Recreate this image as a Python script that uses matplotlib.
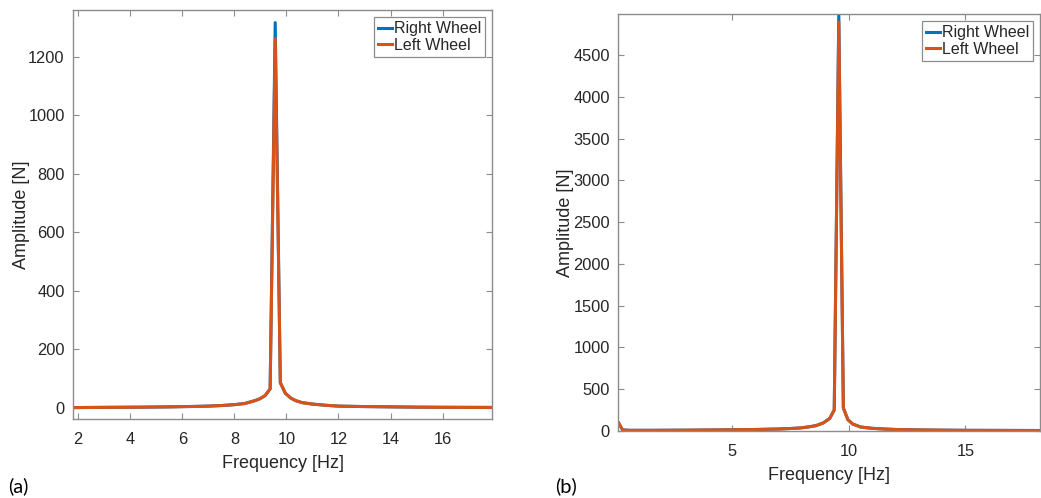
import matplotlib
matplotlib.use("Agg")
import matplotlib.pyplot as plt

# ---- data ----
freq_a = [1.76, 2.5, 3.5, 4.5, 5.5, 6.5, 7.0, 7.5, 8.0, 8.4, 8.8, 9.0, 9.18, 9.375,
          9.57, 9.766, 9.96, 10.16, 10.35, 10.6, 11.0, 11.5, 12.0, 13.0, 14.0, 15.0, 16.0, 17.97]
right_a = [1, 1.5, 2, 2.5, 3.5, 5, 6, 8, 11, 15, 25, 32, 42, 65,
           1317, 86, 50, 34, 25, 18, 13, 9, 6, 4.5, 3.5, 2.5, 2, 1.5]
left_a = [1, 1.5, 2, 2.5, 3.5, 5, 6, 8, 11, 15, 25, 32, 42, 65,
          1262, 86, 50, 34, 25, 18, 13, 9, 6, 4.5, 3.5, 2.5, 2, 1.5]

freq_b = [0.1, 0.3, 0.6, 1.5, 3.0, 4.5, 6.0, 7.0, 7.5, 7.9, 8.3, 8.6, 8.9, 9.18,
          9.375, 9.57, 9.766, 9.96, 10.16, 10.5, 11.0, 11.5, 12.0, 13.0, 14.0, 15.0, 16.5, 18.2]
right_b = [108, 12, 8, 8, 10, 13, 18, 24, 30, 36, 50, 65, 96, 150,
           251, 4990, 275, 135, 85, 48, 32, 24, 18, 13, 10, 8, 7, 6]
left_b = [108, 12, 8, 8, 10, 13, 18, 24, 30, 36, 50, 65, 96, 150,
          251, 4895, 275, 135, 85, 48, 32, 24, 18, 13, 10, 8, 7, 6]

xticks_a = [2, 4, 6, 8, 10, 12, 14, 16]
yticks_a = [0, 200, 400, 600, 800, 1000, 1200]
xticks_b = [5, 10, 15]
yticks_b = [0, 500, 1000, 1500, 2000, 2500, 3000, 3500, 4000, 4500]
series_labels = ["Right Wheel", "Left Wheel"]

# ---- style ----
BLUE = "#0072BD"
ORANGE = "#D95319"
SPINE = "#8c8c8c"
TXT = "#262626"
plt.rcParams["font.family"] = ["Liberation Sans", "DejaVu Sans"]

W, H = 1041, 498
fig = plt.figure(figsize=(W / 100, H / 100), dpi=100)


def px_axes(x0, y0, x1, y1):
    return fig.add_axes([x0 / W, 1 - y1 / H, (x1 - x0) / W, (y1 - y0) / H])


def style(ax, xt, yt):
    for s in ax.spines.values():
        s.set_color(SPINE)
        s.set_linewidth(1.0)
    ax.set_xticks(xt)
    ax.set_yticks(yt)
    ax.tick_params(direction="in", length=4, width=0.8, color=SPINE,
                   labelsize=11.8, labelcolor=TXT, top=True, right=True)
    ax.tick_params(axis="x", pad=9)
    ax.tick_params(axis="y", pad=6)
    ax.set_xlabel("Frequency [Hz]", fontsize=13, color=TXT, labelpad=6)
    ax.set_ylabel("Amplitude [N]", fontsize=13, color=TXT, labelpad=-1)
    leg = ax.legend(loc="upper right", fontsize=11.5, handlelength=0.85,
                    handletextpad=0.1, borderpad=0.25, labelspacing=0.1,
                    borderaxespad=0.45, fancybox=False, framealpha=1)
    leg.get_frame().set_edgecolor(SPINE)
    leg.get_frame().set_linewidth(0.9)
    for t in leg.get_texts():
        t.set_color(TXT)


ax1 = px_axes(73, 10, 492, 419)
ax1.plot(freq_a, right_a, color=BLUE, lw=2.2, label=series_labels[0])
ax1.plot(freq_a, left_a, color=ORANGE, lw=2.2, label=series_labels[1])
ax1.set_xlim(1.8, 17.9)
ax1.set_ylim(-38, 1360)
style(ax1, xticks_a, yticks_a)

ax2 = px_axes(618, 14, 1040, 431)
ax2.plot(freq_b, right_b, color=BLUE, lw=2.2, label=series_labels[0])
ax2.plot(freq_b, left_b, color=ORANGE, lw=2.2, label=series_labels[1])
ax2.set_xlim(0.1, 18.2)
ax2.set_ylim(0, 4990)
style(ax2, xticks_b, yticks_b)

fig.text(8 / W, 1 - 486 / H, "(a)", fontsize=14.5, family=["Lato", "DejaVu Sans"],
         va="center", ha="left", color="black")
fig.text(555 / W, 1 - 486 / H, "(b)", fontsize=14.5, family=["Lato", "DejaVu Sans"],
         va="center", ha="left", color="black")

fig.savefig("out.png", dpi=100)
